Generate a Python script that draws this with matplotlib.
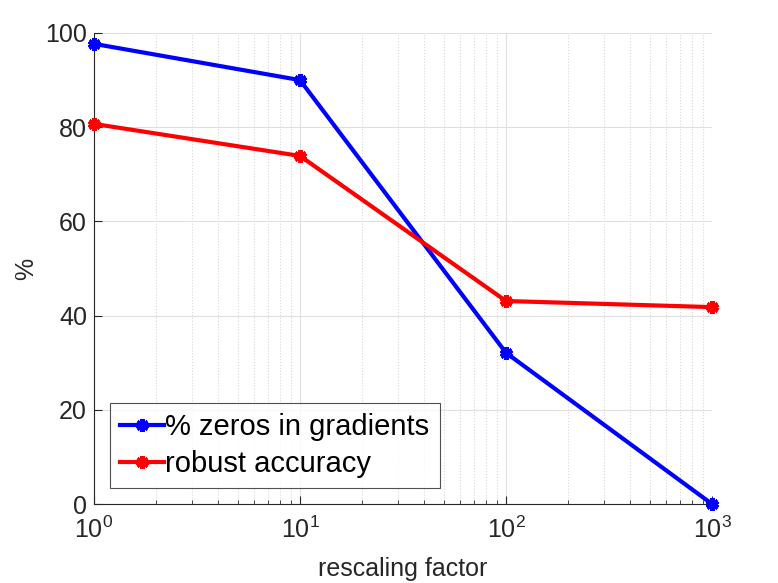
import matplotlib.pyplot as plt
import matplotlib.ticker as mticker
import numpy as np

plt.rcParams['font.family'] = ['Liberation Sans', 'DejaVu Sans']

scale = [1, 10, 100, 1000]
zerosGrad = [97.7, 90.0, 32.1, 0.0]
robustAcc = [80.7, 73.9, 43.1, 41.8]
labels = ['% zeros in gradients', 'robust accuracy']

fig = plt.figure(figsize=(7.78, 5.83), dpi=100)
ax = fig.add_axes([94 / 778, 1 - 504 / 583, (712 - 94) / 778, (504 - 33) / 583])

star = (6, 2, 0)
ax.plot(scale, zerosGrad, color='#0000ff', lw=3, marker=star, ms=9, mew=3.5, label=labels[0], clip_on=False, zorder=3)
ax.plot(scale, robustAcc, color='#ff0000', lw=3, marker=star, ms=9, mew=3.5, label=labels[1], clip_on=False, zorder=3)

ax.set_xscale('log')
ax.set_xlim(1, 1000)
ax.set_ylim(0, 100)
ax.set_yticks([0, 20, 40, 60, 80, 100])
ax.xaxis.set_minor_locator(mticker.LogLocator(base=10, subs=np.arange(2, 10), numticks=20))
ax.xaxis.set_minor_formatter(mticker.NullFormatter())

ax.grid(True, which='major', color='#e0e0e0', lw=0.8)
ax.grid(True, which='minor', axis='x', color='#d8d8d8', lw=0.8, ls=':')
ax.set_axisbelow(True)

for s in ['top', 'right']:
    ax.spines[s].set_visible(False)
for s in ['left', 'bottom']:
    ax.spines[s].set_color('#262626')
    ax.spines[s].set_linewidth(0.8)

ax.tick_params(which='both', direction='in', colors='#262626', labelsize=18)
ax.tick_params(axis='x', pad=9)
ax.tick_params(axis='y', pad=5)
ax.tick_params(which='major', length=6)
ax.tick_params(which='minor', length=3)

ax.set_xlabel('rescaling factor', fontsize=18, color='#262626', labelpad=10)
ax.set_ylabel('%', fontsize=18, color='#262626')
ax.yaxis.set_label_coords(-0.09, 0.5)

leg = ax.legend(loc='lower left', bbox_to_anchor=(0.026, 0.034), fontsize=21, frameon=True, fancybox=False,
                edgecolor='#262626', handlelength=1.5, handletextpad=0.05, borderpad=0.35, labelspacing=0.3,
                borderaxespad=0)
leg.get_frame().set_linewidth(0.8)

fig.savefig('out.png', dpi=100)
